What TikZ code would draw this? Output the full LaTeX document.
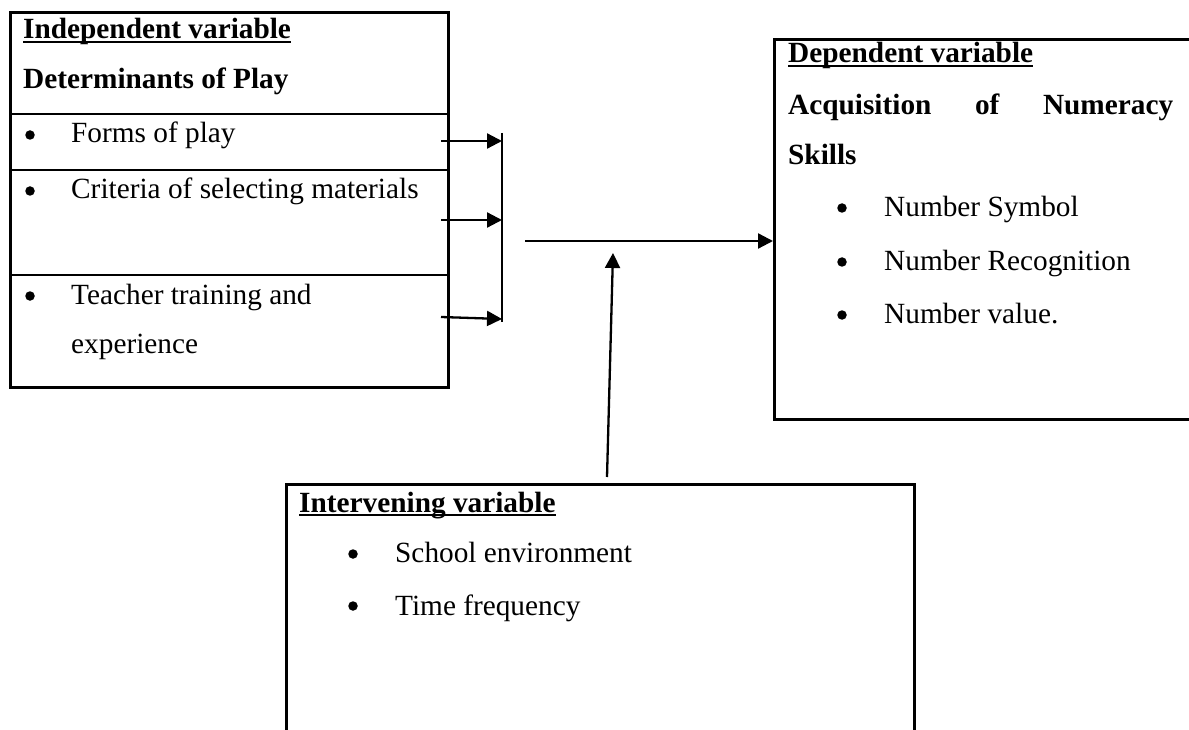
\documentclass[tikz,border=0pt]{standalone}
\usepackage{fontspec}
\setmainfont{Liberation Serif}
\usetikzlibrary{arrows.meta}
\begin{document}
\begin{tikzpicture}[x=1pt,y=-1pt,
  txt/.style={anchor=base west, inner sep=0pt, font=\fontsize{29.3}{35}\selectfont},
  btxt/.style={anchor=base west, inner sep=0pt, font=\fontsize{29.3}{35}\selectfont\bfseries},
  dot/.style={circle, fill=black, inner sep=0pt, minimum size=9.5pt},
  box/.style={draw, line width=2.6pt, inner sep=0pt, anchor=north west},
  divider/.style={line width=2.6pt},
  arr/.style={line width=2.3pt, -{Triangle[length=15pt,width=15pt]}},
  barline/.style={line width=2.3pt},
  uline/.style={line width=2.3pt},
]
\useasboundingbox (0,0) rectangle (1189,730);

% ---------- boxes ----------
\node[box, minimum width=438pt, minimum height=375pt] (L) at (9,11) {};
\node[box, minimum width=440pt, minimum height=380pt] (R) at (773,38) {};
\node[box, minimum width=628pt, minimum height=300pt] (I) at (285,483) {};

\coordinate (d1) at (0,114);
\coordinate (d2) at (0,170);
\coordinate (d3) at (0,275);
\draw[divider] (L.west |- d1) -- (L.east |- d1);
\draw[divider] (L.west |- d2) -- (L.east |- d2);
\draw[divider] (L.west |- d3) -- (L.east |- d3);

% ---------- left box text ----------
\node[btxt] (t1) at (23,39) {Independent variable};
\draw[uline] ([yshift=-3pt]t1.base west) -- ([yshift=-3pt]t1.base east);
\node[btxt] (t2) at (23,89) {Determinants of Play};
\node[dot] (b1) at (30,135) {};
\node[txt] (l1) at (71,143) {Forms of play};
\node[dot] (b2) at (30,191) {};
\node[txt] (l2) at (71,199) {Criteria of selecting materials};
\node[dot] (b3) at (30,296) {};
\node[txt] (l3) at (71,304) {Teacher training and};
\node[txt] (l4) at (71,353) {experience};

% ---------- right box text ----------
\node[btxt] (r1) at (788,63) {Dependent variable};
\draw[uline] ([yshift=-3pt]r1.base west) -- ([yshift=-3pt]r1.base east);
\node[btxt] (r2) at (788,115) {\hbox to 385pt{Acquisition\hfill of\hfill Numeracy}};
\node[btxt] (r3) at (788,165) {Skills};
\node[dot] (rb1) at (842,208) {};
\node[txt] (rl1) at (884,217) {Number Symbol};
\node[dot] (rb2) at (842,262) {};
\node[txt] (rl2) at (884,270) {Number Recognition};
\node[dot] (rb3) at (842,315) {};
\node[txt] (rl3) at (884,323) {Number value.};

% ---------- intervening box text ----------
\node[btxt] (i1) at (299,512) {Intervening variable};
\draw[uline] ([yshift=-3pt]i1.base west) -- ([yshift=-3pt]i1.base east);
\node[dot] (ib1) at (353,554) {};
\node[txt] (il1) at (395,562) {School environment};
\node[dot] (ib2) at (353,606) {};
\node[txt] (il2) at (395,615) {Time frequency};

% ---------- connectors ----------
\coordinate (barT) at (502,133);
\coordinate (barB) at (502,322);
\draw[barline] (barT) -- (barB);

\coordinate (s1) at (441,141);
\coordinate (s2) at (441,220);
\coordinate (s3) at (441,317);
\coordinate (e3) at (502,319);
\draw[arr] (s1) -- (barT |- s1);
\draw[arr] (s2) -- (barT |- s2);
\draw[arr] (s3) -- (e3);

\coordinate (m0) at (525,241);
\draw[arr] (m0) -- (R.west |- m0);

\coordinate (v0) at (607,477);
\coordinate (v1) at (613,253);
\draw[arr] (v0) -- (v1);
\end{tikzpicture}
\end{document}
